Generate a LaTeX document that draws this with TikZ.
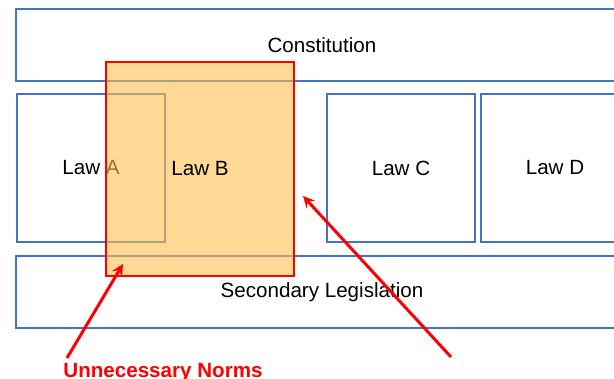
\documentclass[tikz,border=0pt]{standalone}
\usepackage{fontspec}
\setmainfont{Liberation Sans}
\usepackage{tikz}
\usetikzlibrary{arrows}
\definecolor{lawblue}{RGB}{68,114,196}
\definecolor{normorange}{RGB}{252,192,78}
\tikzstyle{level} = [rectangle, minimum width=306pt, minimum height=36pt, inner sep=0pt, text centered, draw=lawblue, line width=0.75pt]
\tikzstyle{law} = [rectangle, minimum width=74pt, minimum height=74pt, inner sep=0pt, text centered, draw=lawblue, line width=0.75pt]
\tikzstyle{overlap} = [rectangle, minimum width=94pt, minimum height=107pt, inner sep=0pt, text centered, draw=red, line width=0.9pt, fill=normorange, fill opacity=0.6, text opacity=1]
\tikzstyle{arrow} = [red, line width=1.5pt, ->, >=stealth]

\begin{document}
\begin{tikzpicture}[x=0.5pt, y=-0.5pt, node distance=77pt, font=\fontsize{10.3}{12}\selectfont]
	\useasboundingbox (0,0) rectangle (614,379);
	
	\node (constitution) [level] at (322,45) {Constitution};
	\node (lawa) [law] at (91,168) {Law A};
	\node (lawc) [law] at (401,168) {Law C};
	\node (lawd) [law, right of=lawc] {Law D};
	\node (secondary) [level] at (322,292) {Secondary Legislation};
	\node (lawb) [overlap] at (200,169) {Law B};
	\node (norms) [anchor=base, text=red, font=\fontsize{10.3}{12}\selectfont\bfseries] at (163,377) {Unnecessary Norms};
	
	\coordinate (normtail) at (67,358);
	\coordinate (normtip) at (123,264);
	\coordinate (lawbtail) at (451,357);
	\coordinate (lawbtip) at (303,196);
	
	\draw [arrow] (normtail) -- (normtip);
	\draw [arrow] (lawbtail) -- (lawbtip);
	
\end{tikzpicture}
\end{document}
